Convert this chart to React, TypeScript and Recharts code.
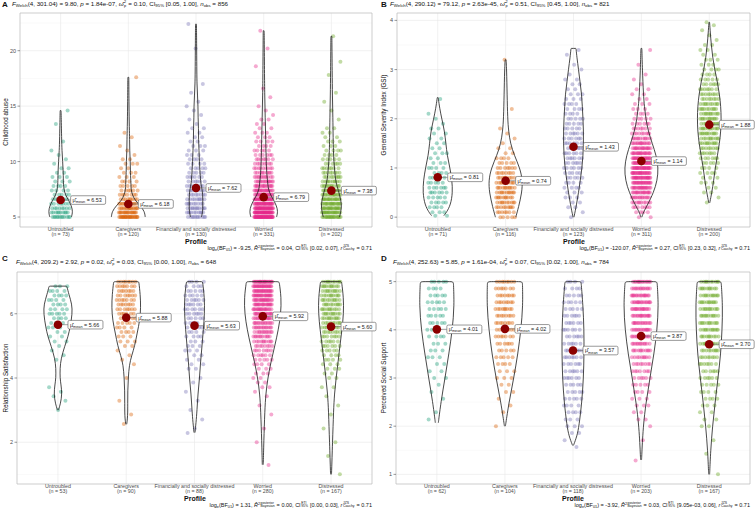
import React from "react";
import { ComposedChart, Scatter, XAxis, YAxis, CartesianGrid, ReferenceArea } from "recharts";

const FONT = '"Liberation Sans", Arial, Helvetica, sans-serif';

const profiles = ["Untroubled", "Caregivers", "Financially and socially distressed", "Worried", "Distressed"];
const profileColors = ["#1B9E77", "#D95F02", "#7570B3", "#E7298A", "#66A61E"];

type Level = [number, number];

// ---- A: childhood abuse
const abuseN = [73, 120, 130, 331, 202];
const abuseMeans = [6.53, 6.18, 7.62, 6.79, 7.38];
const abuseTicks = [5, 10, 15, 20];
const abuseMinor = [7.5, 12.5, 17.5, 22.5];
// [value, how many respondents]
const abusePoints: Level[][] = [
  [[5, 12], [5.4, 10], [5.8, 8], [6.2, 7], [6.6, 6], [7, 5], [7.4, 4], [7.8, 4], [8.2, 3], [8.6, 3], [9, 2], [9.4, 2], [9.8, 1], [10.2, 1], [10.6, 1], [11, 1], [11.8, 1], [13.4, 1], [14.6, 1]],
  [[5, 25], [5.4, 18], [5.8, 15], [6.2, 12], [6.6, 9], [7, 7], [7.4, 6], [7.8, 5], [8.2, 4], [8.6, 3], [9, 3], [9.4, 2], [9.8, 3], [10.2, 2], [10.6, 1], [11, 1], [11.4, 1], [12.2, 1], [12.6, 1], [17.6, 1]],
  [[5, 11], [5.4, 10], [5.8, 11], [6.2, 9], [6.6, 9], [7, 8], [7.4, 8], [7.8, 7], [8.2, 6], [8.6, 6], [9, 5], [9.4, 5], [9.8, 4], [10.2, 4], [10.6, 3], [11, 3], [11.4, 3], [11.8, 2], [12.2, 2], [12.6, 2], [13, 2], [13.4, 1], [13.8, 1], [14.2, 1], [14.6, 1], [15, 1], [15.4, 1], [16.2, 1], [17, 1], [20.2, 1], [22.4, 1]],
  [[5, 44], [5.4, 40], [5.8, 35], [6.2, 30], [6.6, 26], [7, 22], [7.4, 19], [7.8, 16], [8.2, 14], [8.6, 12], [9, 10], [9.4, 9], [9.8, 8], [10.2, 7], [10.6, 6], [11, 5], [11.4, 4], [11.8, 4], [12.2, 3], [12.6, 3], [13, 2], [13.4, 2], [13.8, 2], [14.2, 1], [14.6, 1], [15, 1], [15.8, 1], [16.6, 1], [18.6, 1], [20.2, 1], [21.8, 1]],
  [[5, 19], [5.4, 19], [5.8, 18], [6.2, 18], [6.6, 16], [7, 15], [7.4, 13], [7.8, 12], [8.2, 10], [8.6, 9], [9, 8], [9.4, 7], [9.8, 6], [10.2, 5], [10.6, 4], [11, 4], [11.4, 3], [11.8, 3], [12.2, 2], [12.6, 2], [13, 2], [13.8, 1], [14.6, 1], [15.4, 1], [16.2, 1], [17.8, 1], [19, 1], [21.3, 1]],
];
// [value, violin half width in hundredths of a category step]
const abuseViolins: Level[][] = [
  [[5, 16], [5.5, 18], [6, 16], [6.5, 12], [7, 7], [7.5, 5], [8, 4], [9, 4], [10, 3], [11, 2], [12, 1.5], [14.6, 0.7]],
  [[5, 25], [5.5, 24], [6, 18], [6.5, 10], [7, 6], [7.5, 4], [8, 4], [9, 3], [10, 3], [11, 2], [12, 2], [13, 1.5], [15, 1], [17.6, 0.7]],
  [[5, 8], [5.5, 10], [6, 10], [6.5, 10], [7, 10], [7.5, 9], [8, 7], [9, 6], [10, 5], [11, 4.5], [12, 3.7], [13, 3.7], [14, 3], [15, 3], [16, 2.2], [17, 1.5], [18, 1.2], [20, 1], [22.4, 0.7]],
  [[5, 19], [5.5, 21], [6, 19], [6.5, 15], [7, 10], [7.5, 7], [8, 6], [9, 4.4], [10, 3.7], [12, 3], [14, 2.2], [16, 1.5], [18, 1.2], [21.8, 0.7]],
  [[5, 12], [5.5, 14], [6, 15], [6.5, 14], [7, 12], [7.5, 10], [8, 7], [9, 5], [10, 3.7], [11, 3], [12, 2.6], [14, 2.2], [16, 1.5], [18, 1.2], [21.3, 0.7]],
];

// ---- B: general severity index
const gsiN = [71, 116, 123, 311, 200];
const gsiMeans = [0.81, 0.74, 1.43, 1.14, 1.88];
const gsiTicks = [0, 1, 2, 3, 4];
const gsiMinor = [0.5, 1.5, 2.5, 3.5];
const gsiPoints: Level[][] = [
  [[0.03, 2], [0.1, 3], [0.2, 4], [0.3, 5], [0.4, 5], [0.5, 6], [0.6, 6], [0.7, 5], [0.8, 5], [0.9, 4], [1, 4], [1.1, 3], [1.2, 2], [1.3, 3], [1.4, 2], [1.5, 2], [1.6, 2], [1.7, 2], [1.8, 2], [1.9, 1], [2, 1], [2.1, 1], [2.4, 1]],
  [[0, 5], [0.1, 7], [0.2, 9], [0.3, 10], [0.4, 10], [0.5, 11], [0.6, 11], [0.7, 10], [0.8, 9], [0.9, 8], [1, 7], [1.1, 5], [1.2, 4], [1.3, 2], [1.4, 2], [1.5, 1], [1.6, 1], [1.7, 1], [1.8, 1], [2.2, 1], [3.2, 1]],
  [[0, 1], [0.1, 1], [0.2, 2], [0.3, 2], [0.4, 3], [0.5, 3], [0.6, 4], [0.7, 4], [0.8, 5], [0.9, 5], [1, 6], [1.1, 6], [1.2, 6], [1.3, 6], [1.4, 7], [1.5, 6], [1.6, 6], [1.7, 6], [1.8, 5], [1.9, 5], [2, 5], [2.1, 4], [2.2, 4], [2.3, 4], [2.4, 3], [2.5, 3], [2.6, 2], [2.7, 2], [2.8, 2], [2.9, 1], [3, 1], [3.1, 1], [3.3, 1], [3.4, 1]],
  [[0, 2], [0.1, 4], [0.2, 7], [0.3, 10], [0.4, 13], [0.5, 16], [0.6, 19], [0.7, 21], [0.8, 23], [0.9, 23], [1, 24], [1.1, 22], [1.2, 20], [1.3, 18], [1.4, 16], [1.5, 14], [1.6, 11], [1.7, 9], [1.8, 7], [1.9, 6], [2, 5], [2.1, 4], [2.2, 3], [2.3, 3], [2.4, 2], [2.5, 2], [2.6, 2], [2.7, 1], [2.8, 1], [2.9, 1], [3.1, 1], [3.4, 1]],
  [[0.3, 1], [0.4, 1], [0.5, 2], [0.6, 2], [0.7, 3], [0.8, 3], [0.9, 4], [1, 4], [1.1, 5], [1.2, 6], [1.3, 7], [1.4, 8], [1.5, 10], [1.6, 10], [1.7, 11], [1.8, 11], [1.9, 11], [2, 11], [2.1, 11], [2.2, 10], [2.3, 10], [2.4, 8], [2.5, 8], [2.6, 7], [2.7, 6], [2.8, 5], [2.9, 4], [3, 4], [3.1, 3], [3.2, 3], [3.3, 2], [3.4, 2], [3.5, 2], [3.6, 1], [3.7, 1], [3.8, 1], [3.9, 1], [3.96, 1]],
];
const gsiViolins: Level[][] = [
  [[0.03, 9], [0.1, 13], [0.25, 19], [0.5, 22], [0.75, 21], [1, 18], [1.25, 14], [1.5, 12], [1.75, 10], [2, 6], [2.2, 3], [2.43, 0.7]],
  [[0, 15], [0.2, 19], [0.5, 24], [0.75, 25], [1, 21], [1.25, 13], [1.5, 7], [1.75, 4.4], [2, 3], [2.5, 2.2], [3, 1.5], [3.2, 0.7]],
  [[0, 0.7], [0.25, 4.4], [0.5, 7.4], [0.75, 10], [1, 12.5], [1.25, 14], [1.5, 14.7], [1.75, 14.7], [2, 14], [2.25, 13], [2.5, 12], [2.75, 9.6], [3, 7.4], [3.25, 5], [3.43, 3.7]],
  [[0, 0.7], [0.1, 3], [0.25, 9], [0.5, 18], [0.75, 23.5], [1, 25], [1.25, 22], [1.5, 16], [1.75, 10], [2, 6.6], [2.25, 4.4], [2.5, 3], [3, 1.5], [3.43, 0.7]],
  [[0.29, 0.7], [0.5, 3.7], [0.75, 6.6], [1, 8.8], [1.25, 12], [1.5, 15], [1.75, 17], [2, 17.6], [2.25, 17], [2.5, 15], [2.75, 12], [3, 8], [3.25, 5], [3.5, 3], [3.75, 1.5], [3.96, 0.5]],
];

// ---- C: relationship satisfaction
const relN = [53, 90, 88, 280, 167];
const relMeans = [5.66, 5.88, 5.63, 5.92, 5.6];
const relTicks = [2, 4, 6];
const relMinor = [1, 3, 5, 7];
const relPoints: Level[][] = [
  [[6.86, 3], [6.71, 4], [6.57, 4], [6.43, 4], [6.29, 4], [6.14, 4], [6, 5], [5.86, 4], [5.71, 3], [5.57, 3], [5.43, 2], [5.29, 2], [5.14, 2], [5, 1], [4.86, 1], [4.71, 1], [4.57, 1], [3.71, 1], [3.57, 1], [3.43, 1], [3.29, 1], [3, 1]],
  [[7, 8], [6.86, 7], [6.71, 7], [6.57, 7], [6.43, 7], [6.29, 7], [6.14, 7], [6, 6], [5.86, 5], [5.71, 5], [5.57, 4], [5.43, 4], [5.29, 3], [5.14, 3], [5, 2], [4.86, 1], [4.71, 1], [4.57, 1], [4.43, 1], [4, 1], [3.29, 1], [2.86, 1], [2.57, 1]],
  [[7, 4], [6.86, 4], [6.71, 5], [6.57, 5], [6.43, 6], [6.29, 6], [6.14, 6], [6, 6], [5.86, 5], [5.71, 4], [5.57, 4], [5.43, 4], [5.29, 4], [5.14, 3], [5, 3], [4.86, 3], [4.71, 2], [4.57, 2], [4.43, 2], [4.29, 2], [4, 1], [3.86, 1], [3.57, 1], [3.29, 1], [3, 1], [2.71, 1], [2.43, 1], [2.29, 1]],
  [[7, 24], [6.86, 21], [6.71, 21], [6.57, 20], [6.43, 19], [6.29, 18], [6.14, 17], [6, 16], [5.86, 15], [5.71, 14], [5.57, 13], [5.43, 12], [5.29, 11], [5.14, 10], [5, 8], [4.86, 7], [4.71, 6], [4.57, 5], [4.43, 4], [4.29, 3], [4.14, 3], [4, 2], [3.86, 2], [3.71, 2], [3.57, 1], [3.43, 1], [3.14, 1], [2.86, 1], [2.43, 1], [2, 1], [1.29, 1]],
  [[7, 10], [6.86, 10], [6.71, 10], [6.57, 10], [6.43, 10], [6.29, 10], [6.14, 10], [6, 10], [5.86, 10], [5.71, 9], [5.57, 9], [5.43, 8], [5.29, 7], [5.14, 6], [5, 6], [4.86, 5], [4.71, 4], [4.57, 4], [4.43, 3], [4.29, 3], [4.14, 2], [4, 2], [3.71, 2], [3.43, 1], [3.14, 1], [2.86, 1], [2.43, 1], [2, 1], [1.57, 1], [1, 1]],
];
const relViolins: Level[][] = [
  [[3, 0.7], [3.2, 3.7], [3.5, 6], [3.8, 4.4], [4, 3], [4.3, 3], [4.6, 4.4], [5, 10], [5.3, 15], [5.6, 18], [6, 21], [6.3, 20.5], [6.6, 16], [6.86, 13]],
  [[2.56, 0.7], [2.8, 2.2], [3.2, 2.2], [3.6, 2.2], [4, 3], [4.4, 4.4], [4.7, 8], [5, 12.5], [5.4, 16], [5.8, 20], [6.2, 21.3], [6.6, 20.6], [7, 18.4]],
  [[2.3, 0.7], [2.6, 2.2], [3, 3.7], [3.5, 5], [4, 7.4], [4.5, 8.8], [5, 11], [5.5, 13], [6, 14.7], [6.5, 14.7], [7, 11.8]],
  [[1.3, 0.7], [2, 1.5], [3, 3], [3.5, 4.4], [4, 7.4], [4.5, 12], [5, 17.6], [5.5, 22.8], [6, 26.5], [6.5, 27.2], [7, 24]],
  [[1, 0.7], [2, 2.2], [3, 3.7], [3.5, 5], [4, 7.4], [4.5, 10.3], [5, 13], [5.5, 16], [6, 18.4], [6.5, 18.4], [7, 15.4]],
];

// ---- D: perceived social support
const supN = [62, 104, 118, 203, 167];
const supMeans = [4.01, 4.02, 3.57, 3.87, 3.7];
const supTicks = [1, 2, 3, 4, 5];
const supMinor = [1.5, 2.5, 3.5, 4.5];
const supPoints: Level[][] = [
  [[5, 5], [4.86, 4], [4.71, 5], [4.57, 5], [4.43, 5], [4.29, 5], [4.14, 5], [4, 4], [3.86, 4], [3.71, 3], [3.57, 3], [3.43, 3], [3.29, 2], [3.14, 2], [3, 2], [2.86, 1], [2.71, 1], [2.57, 1], [2.29, 1], [2.14, 1]],
  [[5, 8], [4.86, 7], [4.71, 8], [4.57, 8], [4.43, 9], [4.29, 8], [4.14, 8], [4, 7], [3.86, 7], [3.71, 6], [3.57, 5], [3.43, 5], [3.29, 4], [3.14, 3], [3, 3], [2.86, 2], [2.71, 2], [2.57, 1], [2.43, 1], [2.29, 1], [2, 1]],
  [[5, 4], [4.86, 4], [4.71, 5], [4.57, 5], [4.43, 5], [4.29, 6], [4.14, 6], [4, 6], [3.86, 6], [3.71, 6], [3.57, 7], [3.43, 7], [3.29, 6], [3.14, 6], [3, 6], [2.86, 5], [2.71, 5], [2.57, 5], [2.43, 4], [2.29, 4], [2.14, 3], [2, 3], [1.86, 2], [1.71, 1], [1.57, 1]],
  [[5, 14], [4.86, 13], [4.71, 15], [4.57, 15], [4.43, 15], [4.29, 15], [4.14, 14], [4, 14], [3.86, 13], [3.71, 12], [3.57, 11], [3.43, 9], [3.29, 8], [3.14, 7], [3, 6], [2.86, 5], [2.71, 4], [2.57, 3], [2.43, 3], [2.29, 2], [2.14, 2], [2, 1], [1.71, 1], [1.29, 1]],
  [[5, 10], [4.86, 10], [4.71, 11], [4.57, 11], [4.43, 11], [4.29, 11], [4.14, 11], [4, 11], [3.86, 10], [3.71, 10], [3.57, 9], [3.43, 8], [3.29, 7], [3.14, 6], [3, 6], [2.86, 5], [2.71, 4], [2.57, 4], [2.43, 3], [2.29, 2], [2.14, 2], [2, 2], [1.71, 1], [1.43, 1], [1, 1]],
];
const supViolins: Level[][] = [
  [[2.07, 2.2], [2.5, 6], [3, 12], [3.5, 17.6], [4, 22.8], [4.5, 25.7], [5, 24.3]],
  [[2, 0.7], [2.5, 6], [3, 13], [3.5, 19], [4, 23.5], [4.5, 26.5], [5, 25.7]],
  [[1.6, 0.7], [1.8, 6], [2, 8.8], [2.5, 13], [3, 15.4], [3.5, 16.2], [4, 16.2], [4.5, 14.7], [5, 11.8]],
  [[1.3, 0.7], [2, 3], [2.5, 7.4], [3, 13], [3.5, 19], [4, 23.5], [4.5, 25.7], [5, 23.5]],
  [[1, 0.7], [1.5, 2.2], [2, 5], [2.5, 8.8], [3, 13], [3.5, 17], [4, 19], [4.5, 19.9], [5, 17.6]],
];

const JITTER = 0.14;

// spread each level's points sideways with a golden-ratio sequence
function jitterPoints(levels: Level[], group: number) {
  const out: { x: number; y: number }[] = [];
  let k = 0;
  levels.forEach(([v, c]) => {
    for (let j = 0; j < c; j++) {
      const u = (k * 0.6180339887 + 0.37) % 1;
      out.push({ x: group + (u - 0.5) * 2 * JITTER, y: v });
      k++;
    }
  });
  return out;
}

function violinOutline(shape: Level[], group: number) {
  const right = shape.map(([v, w]) => ({ x: group + w / 100, y: v }));
  const left = [...shape].reverse().map(([v, w]) => ({ x: group - w / 100, y: v }));
  // doubled corners keep the trimmed ends flat
  return [right[0], ...right, right[right.length - 1], left[0], ...left, left[left.length - 1]];
}

const EmptyShape = () => <g />;

function MeanShape(props: any) {
  const { cx, cy, payload } = props;
  if (cx == null || cy == null) return <g />;
  return (
    <g>
      <line x1={cx} y1={cy} x2={cx + 10} y2={cy} stroke="#666" strokeWidth={0.6} />
      <rect x={cx + 10} y={cy - 4.3} width={35} height={8.6} rx={1.5} fill="#fff" stroke="#555" strokeWidth={0.6} />
      <text x={cx + 12} y={cy + 1.9} fontSize={5.4} fontFamily={FONT} fill="#222">
        {"\u03bc\u0302"}
        <tspan fontSize={3.8} dy={1.2}>mean</tspan>
        <tspan dy={-1.2}>{" = " + payload.label}</tspan>
      </text>
      <circle cx={cx} cy={cy} r={4.3} fill="#8B0000" />
    </g>
  );
}

function XTick(props: any) {
  const { x, y, payload, ns } = props;
  const i = payload.value - 1;
  return (
    <g fontFamily={FONT} fontSize={5.3} fill="#4d4d4d" textAnchor="middle">
      <text x={x} y={y + 1.5}>{profiles[i]}</text>
      <text x={x} y={y + 6.5}>{"(n = " + ns[i] + ")"}</text>
    </g>
  );
}

function Panel(p: any) {
  const pointSeries = p.points.map((lv: Level[], i: number) => jitterPoints(lv, i + 1));
  const violinSeries = p.violins.map((v: Level[], i: number) => violinOutline(v, i + 1));
  const meanData = p.means.map((m: number, i: number) => ({ x: i + 1, y: m, label: m.toFixed(2) }));
  return (
    <div style={{ position: "absolute", left: p.left, top: p.top }}>
      <ComposedChart width={p.width} height={256} margin={p.margin}>
        <CartesianGrid horizontalValues={p.minor} vertical={false} stroke="#f2f2f2" strokeWidth={0.5} />
        <CartesianGrid stroke="#e8e8e8" strokeWidth={0.6} />
        <XAxis type="number" dataKey="x" domain={[0.4, 5.6]} ticks={[1, 2, 3, 4, 5]} interval={0}
          axisLine={false} tickLine={false} tickSize={0} tickMargin={2} height={14} tick={<XTick ns={p.ns} />} />
        <YAxis type="number" dataKey="y" domain={p.domain} ticks={p.ticks} interval={0} width={p.yWidth}
          axisLine={false} tickSize={2.5} tickMargin={1.5} tickLine={{ stroke: "#333", strokeWidth: 0.5 }}
          tick={{ fontSize: 5.5, fill: "#4d4d4d", fontFamily: FONT }} />
        <ReferenceArea x1={0.4} x2={5.6} y1={p.domain[0]} y2={p.domain[1]} fill="none" stroke="#bdbdbd" strokeWidth={0.6} />
        {pointSeries.map((d: any, i: number) => (
          <Scatter key={"p" + i} data={d} isAnimationActive={false}
            shape={(s: any) => <circle cx={s.cx} cy={s.cy} r={2} fill={profileColors[i]} fillOpacity={0.4} />} />
        ))}
        {violinSeries.map((d: any, i: number) => (
          <Scatter key={"v" + i} data={d} isAnimationActive={false} shape={EmptyShape}
            line={{ stroke: "#1a1a1a", strokeWidth: 0.8, fill: "none" }} lineJointType="basis" />
        ))}
        <Scatter data={meanData} isAnimationActive={false} shape={MeanShape} />
      </ComposedChart>
    </div>
  );
}

const Sub = ({ children }: any) => (
  <span style={{ fontSize: "0.7em", verticalAlign: "-0.3em", lineHeight: 0 }}>{children}</span>
);
const Sup = ({ children }: any) => (
  <span style={{ fontSize: "0.7em", verticalAlign: "0.45em", lineHeight: 0 }}>{children}</span>
);
const Stack = ({ top, bottom }: any) => (
  <span style={{ display: "inline-flex", flexDirection: "column", verticalAlign: "middle", fontSize: "0.62em", lineHeight: 1, margin: "0 0.5px" }}>
    <span>{top}</span>
    <span>{bottom}</span>
  </span>
);

function Title({ df, f, p, omega, ci, nobs }: any) {
  return (
    <span style={{ color: "#111" }}>
      <i>F</i><Sub>Welch</Sub>({df}) = {f}, <i>p</i> = {p}, <i>{"\u03c9\u0302"}</i><Stack top="2" bottom="p" /> = {omega}, CI<Sub>95%</Sub> {ci}, <i>n</i><Sub>obs</Sub> = {nobs}
    </span>
  );
}

function Footer({ bf, r2, ci }: any) {
  return (
    <span style={{ color: "#111" }}>
      log<Sub>e</Sub>(BF<Sub>01</Sub>) = {bf}, <i>{"R\u0302"}</i><Sup>2</Sup><Stack top="posterior" bottom="Bayesian" /> = {r2}, CI<Stack top="ETI" bottom="95%" /> {ci}, <i>r</i><Stack top="JZS" bottom="Cauchy" /> = 0.71
    </span>
  );
}

function Txt({ x, y, anchor = "start", size, bold, rotate, children }: any) {
  const tx = anchor === "start" ? "0" : anchor === "end" ? "-100%" : "-50%";
  return (
    <div style={{
      position: "absolute", left: x, top: y, whiteSpace: "nowrap", fontSize: size, lineHeight: 1,
      fontWeight: bold ? "bold" : "normal", color: "#111",
      transform: `translate(${tx}, -50%)` + (rotate ? " rotate(-90deg)" : ""),
      transformOrigin: rotate ? "50% 50%" : undefined,
    }}>{children}</div>
  );
}

export default function App() {
  return (
    <div style={{ position: "absolute", left: 0, top: 0, width: 755, height: 512, background: "#fff", overflow: "hidden", fontFamily: FONT, color: "#111" }}>
      <Panel left={0} top={0} width={378} margin={{ top: 13, right: 6, bottom: 15, left: 0 }} yWidth={20}
        domain={[4.1, 23.4]} ticks={abuseTicks} minor={abuseMinor} points={abusePoints} violins={abuseViolins} means={abuseMeans} ns={abuseN} />
      <Panel left={378} top={0} width={377} margin={{ top: 13, right: 5, bottom: 15, left: 0 }} yWidth={19}
        domain={[-0.2, 4.15]} ticks={gsiTicks} minor={gsiMinor} points={gsiPoints} violins={gsiViolins} means={gsiMeans} ns={gsiN} />
      <Panel left={0} top={256} width={378} margin={{ top: 16, right: 6, bottom: 14, left: 0 }} yWidth={17}
        domain={[0.7, 7.3]} ticks={relTicks} minor={relMinor} points={relPoints} violins={relViolins} means={relMeans} ns={relN} />
      <Panel left={378} top={256} width={377} margin={{ top: 16, right: 5, bottom: 14, left: 0 }} yWidth={18}
        domain={[0.8, 5.2]} ticks={supTicks} minor={supMinor} points={supPoints} violins={supViolins} means={supMeans} ns={supN} />

      <Txt x={2} y={4.5} size={8} bold>A</Txt>
      <Txt x={12} y={5} size={6.2}><Title df="4, 301.04" f="9.80" p="1.84e-07" omega="0.10" ci="[0.05, 1.00]" nobs={856} /></Txt>
      <Txt x={381} y={4.5} size={8} bold>B</Txt>
      <Txt x={390} y={5} size={6.2}><Title df="4, 290.12" f="79.12" p="2.63e-45" omega="0.51" ci="[0.45, 1.00]" nobs={821} /></Txt>
      <Txt x={2} y={259} size={8} bold>C</Txt>
      <Txt x={16} y={263} size={6.2}><Title df="4, 209.2" f="2.92" p="0.02" omega="0.03" ci="[0.00, 1.00]" nobs={648} /></Txt>
      <Txt x={381} y={259} size={8} bold>D</Txt>
      <Txt x={393} y={263} size={6.2}><Title df="4, 252.63" f="5.85" p="1.61e-04" omega="0.07" ci="[0.02, 1.00]" nobs={784} /></Txt>

      <Txt x={6} y={122} size={6.3} anchor="middle" rotate>Childhood abuse</Txt>
      <Txt x={384} y={115} size={6.3} anchor="middle" rotate>General Severity Index (GSI)</Txt>
      <Txt x={6} y={378} size={6.3} anchor="middle" rotate>Relationship Satisfaction</Txt>
      <Txt x={384} y={378} size={6.3} anchor="middle" rotate>Perceived Social Support</Txt>

      <Txt x={196} y={240.5} size={7} bold anchor="middle">Profile</Txt>
      <Txt x={574} y={240.5} size={7} bold anchor="middle">Profile</Txt>
      <Txt x={195} y={497.5} size={7} bold anchor="middle">Profile</Txt>
      <Txt x={573} y={497.5} size={7} bold anchor="middle">Profile</Txt>

      <Txt x={372} y={248} size={5.5} anchor="end"><Footer bf="-9.25" r2="0.04" ci="[0.02, 0.07]" /></Txt>
      <Txt x={750} y={248} size={5.5} anchor="end"><Footer bf="-120.07" r2="0.27" ci="[0.23, 0.32]" /></Txt>
      <Txt x={372} y={505} size={5.5} anchor="end"><Footer bf="1.31" r2="0.00" ci="[0.00, 0.03]" /></Txt>
      <Txt x={750} y={505} size={5.5} anchor="end"><Footer bf="-3.92" r2="0.03" ci="[9.05e-03, 0.06]" /></Txt>
    </div>
  );
}
